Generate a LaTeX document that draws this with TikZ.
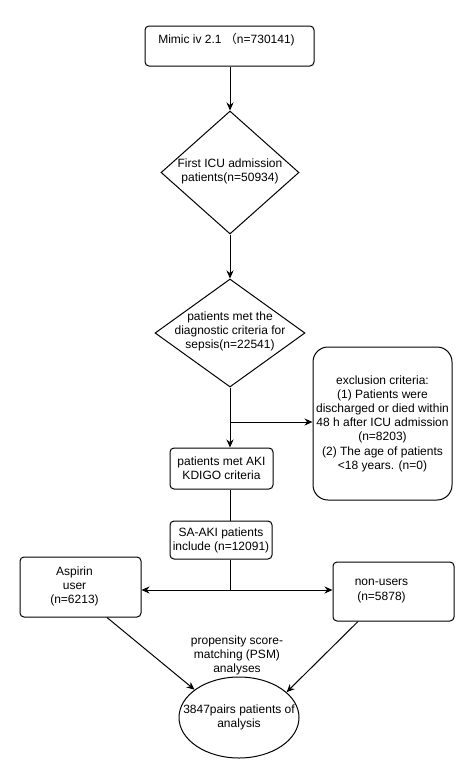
\documentclass[tikz,border=0pt]{standalone}
\usepackage{fontspec}
\setmainfont{Liberation Sans}
\newfontfamily\cjkfont{Noto Sans CJK SC}
\usetikzlibrary{shapes.geometric,arrows.meta,calc}
\begin{document}
\begin{tikzpicture}[x=1pt,y=-1pt,
  every node/.style={font=\fontsize{12}{14.2}\selectfont, align=center, inner sep=0pt},
  box/.style={draw, rounded corners=4pt, line width=1pt},
  dia/.style={draw, diamond, line width=1pt},
  ell/.style={draw, ellipse, line width=1pt},
  conn/.style={line width=1pt},
  arr/.style={conn, -{Stealth[length=8pt,width=7pt]}}
]
\useasboundingbox (0,0) rectangle (474,771);
% top box
\node[box, minimum width=169, minimum height=40] (top) at (229.5,46) {};
\node[anchor=base] (toptxt) at (226.5,43.5) {Mimic iv 2.1 {\cjkfont （}n=730141)};
% diamonds
\node[dia, minimum width=138, minimum height=123] (d1) at (230,172.5) {};
\node (d1t) at (230,171) {First ICU admission\\patients(n=50934)};
\node[dia, minimum width=150, minimum height=108] (d2) at (230,333) {};
\node (d2t) at (230,331.5) {patients met the\\diagnostic criteria for\\sepsis(n=22541)};
% exclusion
\node[box, rounded corners=15pt, minimum width=139, minimum height=153] (ex) at (382.5,423.5)
  {exclusion criteria:\\(1) Patients were\\discharged or died within\\48 h after ICU admission\\(n=8203)\\(2) The age of patients\\<18 years. (n=0)};
% AKI boxes
\node[box, minimum width=103, minimum height=41] (aki) at (221.5,468.5) {patients met AKI\\KDIGO criteria};
\node[box, minimum width=102, minimum height=38] (sa) at (221,540) {SA-AKI patients\\include (n=12091)};
% groups
\node[box, minimum width=121, minimum height=60] (asp) at (80.5,587) {};
\node (aspt) at (74.5,586.5) {Aspirin\\user\\(n=6213)};
\node[box, minimum width=121, minimum height=59] (non) at (393.5,591.5) {};
\node (nont) at (381.5,591) {non-users\\(n=5878)};
% ellipse
\node[ell, minimum width=120, minimum height=81] (el) at (239,717.5) {};
\node (elt) at (239,717.5) {3847pairs patients of\\analysis};
\node (psm) at (237,655.5) {propensity score-\\matching (PSM)\\analyses};
% connectors
\draw[arr] (top.south -| d1.north) -- (d1.north);
\draw[arr] (d1.south) -- (d2.north);
\draw[arr] (d2.south) -- (d2.south |- aki.north);
\coordinate (br) at (230,422);
\draw[arr] (br) -- (br -| ex.west);
\draw[conn] (d2.south |- aki.south) -- (d2.south |- sa.north);
\coordinate (sp) at (230,590);
\draw[conn] (d2.south |- sa.south) -- (sp);
\draw[arr] (sp) -- (sp -| asp.east);
\draw[arr] (sp) -- (sp -| non.west);
\draw[arr] ([xshift=26.5pt]asp.south) -- (el.148);
\draw[arr] ([xshift=-35.5pt]non.south) -- (el.28);
\end{tikzpicture}
\end{document}
